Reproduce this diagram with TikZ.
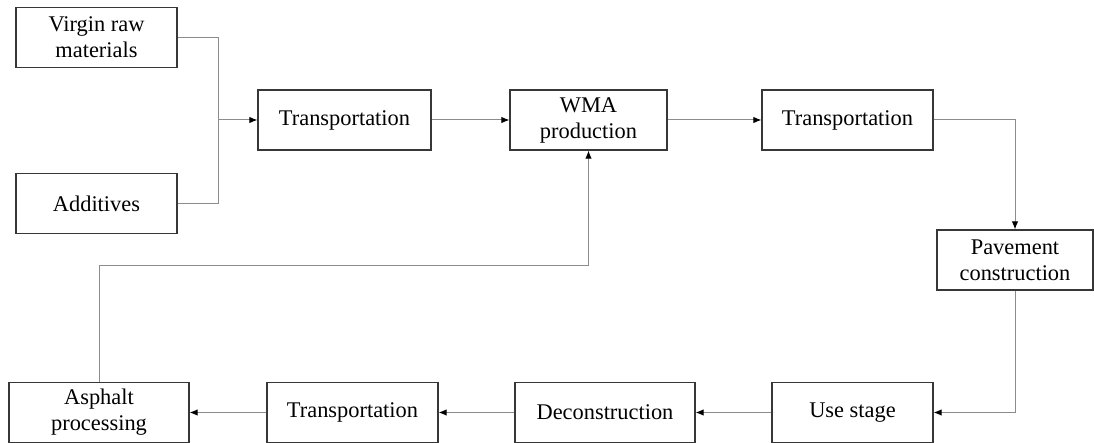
\documentclass[tikz,border=0pt]{standalone}
\usepackage{fontspec}
\setmainfont{Liberation Serif}
\usepackage{xcolor}
\usetikzlibrary{arrows.meta}

\definecolor{boxline}{RGB}{55,55,55}
\definecolor{wire}{RGB}{140,140,140}

\tikzset{
  stage/.style={draw=boxline, line width=1.3pt, align=center, inner sep=0pt,
    minimum height=60pt, font=\fontsize{22.4}{26}\selectfont},
  link/.style={draw=wire, line width=1pt},
  flow/.style={link, -{Latex[length=8pt,width=6.5pt,color=black]}}
}

\begin{document}
\begin{tikzpicture}[x=1pt,y=-1pt]
\useasboundingbox (0,0) rectangle (1094,443);

% inputs
\node[stage, minimum width=161pt] (virgin) at (96.5,37.5) {Virgin raw\\materials};
\node[stage, minimum width=161pt] (additives) at (96.5,203.5) {Additives};
\coordinate (join) at (218,120);

% upper row
\node[stage, minimum width=173pt] (trans1) at (344.5,120) {Transportation};
\node[stage, minimum width=157pt] (wma) at (588.5,120) {WMA\\production};
\node[stage, minimum width=171pt] (trans2) at (847.5,120) {Transportation};
\node[stage, minimum width=156pt] (pave) at (1015,260) {Pavement\\construction};

% lower row
\node[stage, minimum width=161pt] (use) at (852.5,412.5) {Use stage};
\node[stage, minimum width=180pt] (decon) at (605,412.5) {Deconstruction};
\node[stage, minimum width=171pt] (trans3) at (352.5,412.5) {Transportation};
\node[stage, minimum width=180pt] (asphalt) at (99,412.5) {Asphalt\\processing};
\coordinate (back) at (99,266);

\draw[link] (virgin.east) -| (join);
\draw[link] (additives.east) -| (join);
\draw[flow] (join) -- (trans1.west);
\draw[flow] (trans1) -- (wma);
\draw[flow] (wma) -- (trans2);
\draw[flow] (trans2.east) -| (pave.north);
\draw[flow] (pave.south) |- (use.east);
\draw[flow] (use) -- (decon);
\draw[flow] (decon) -- (trans3);
\draw[flow] (trans3) -- (asphalt);
\draw[flow] (asphalt.north) -- (back) -| (wma.south);
\end{tikzpicture}
\end{document}
